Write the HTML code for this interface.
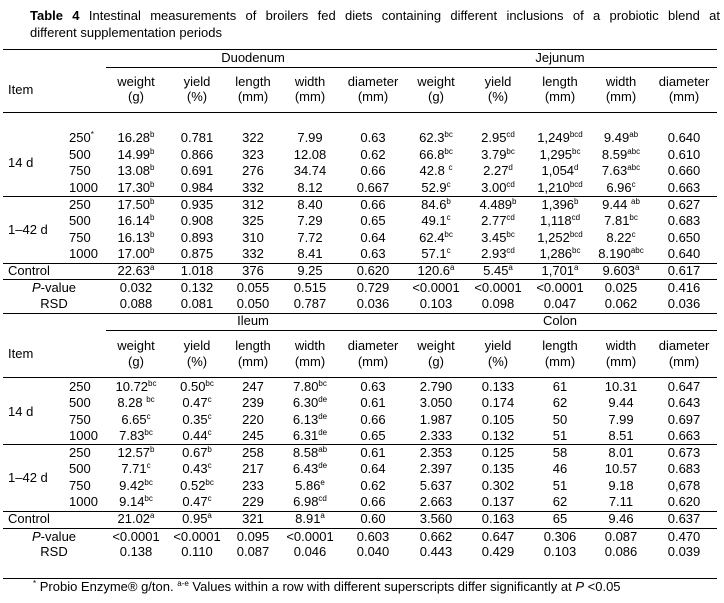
<!DOCTYPE html>
<html><head><meta charset="utf-8">
<style>
body{margin:0;background:#fff;}
#t{position:relative;width:724px;height:603px;font-family:"Liberation Sans",Arial,sans-serif;font-size:13px;color:#000;overflow:hidden;}
.c{position:absolute;line-height:16px;white-space:nowrap;}
.ctr{transform:translateX(-50%);}
.l{position:absolute;height:1px;background:#000;}
sup{font-size:8px;vertical-align:0;position:relative;top:-5px;}
</style></head><body>
<div id="t">
<div class="c" style="left:30px;top:5px;line-height:22px;white-space:normal;width:690px;text-align:justify;text-align-last:justify;"><b>Table 4</b> Intestinal measurements of broilers fed diets containing different inclusions of a probiotic blend at</div>
<div class="c" style="left:30px;top:22px;line-height:22px;">different supplementation periods</div>
</div>
<script>
const colX=[136,197,253,310,373,436,498,560,621,684];
const headers=[["weight","(g)"],["yield","(%)"],["length","(mm)"],["width","(mm)"],["diameter","(mm)"]];
const doses=["250","500","750","1000"];
const top1=[
["16.28|b","0.781","322","7.99","0.63","62.3|bc","2.95|cd","1,249|bcd","9.49|ab","0.640"],
["14.99|b","0.866","323","12.08","0.62","66.8|bc","3.79|bc","1,295|bc","8.59|abc","0.610"],
["13.08|b","0.691","276","34.74","0.66","42.8 |c","2.27|d","1,054|d","7.63|abc","0.660"],
["17.30|b","0.984","332","8.12","0.667","52.9|c","3.00|cd","1,210|bcd","6.96|c","0.663"],
["17.50|b","0.935","312","8.40","0.66","84.6|b","4.489|b","1,396|b","9.44 |ab","0.627"],
["16.14|b","0.908","325","7.29","0.65","49.1|c","2.77|cd","1,118|cd","7.81|bc","0.683"],
["16.13|b","0.893","310","7.72","0.64","62.4|bc","3.45|bc","1,252|bcd","8.22|c","0.650"],
["17.00|b","0.875","332","8.41","0.63","57.1|c","2.93|cd","1,286|bc","8.190|abc","0.640"],
["22.63|a","1.018","376","9.25","0.620","120.6|a","5.45|a","1,701|a","9.603|a","0.617"],
["0.032","0.132","0.055","0.515","0.729","<0.0001","<0.0001","<0.0001","0.025","0.416"],
["0.088","0.081","0.050","0.787","0.036","0.103","0.098","0.047","0.062","0.036"]];
const bot1=[
["10.72|bc","0.50|bc","247","7.80|bc","0.63","2.790","0.133","61","10.31","0.647"],
["8.28 |bc","0.47|c","239","6.30|de","0.61","3.050","0.174","62","9.44","0.643"],
["6.65|c","0.35|c","220","6.13|de","0.66","1.987","0.105","50","7.99","0.697"],
["7.83|bc","0.44|c","245","6.31|de","0.65","2.333","0.132","51","8.51","0.663"],
["12.57|b","0.67|b","258","8.58|ab","0.61","2.353","0.125","58","8.01","0.673"],
["7.71|c","0.43|c","217","6.43|de","0.64","2.397","0.135","46","10.57","0.683"],
["9.42|bc","0.52|bc","233","5.86|e","0.62","5.637","0.302","51","9.18","0,678"],
["9.14|bc","0.47|c","229","6.98|cd","0.66","2.663","0.137","62","7.11","0.620"],
["21.02|a","0.95|a","321","8.91|a","0.60","3.560","0.163","65","9.46","0.637"],
["<0.0001","<0.0001","0.095","<0.0001","0.603","0.662","0.647","0.306","0.087","0.470"],
["0.138","0.110","0.087","0.046","0.040","0.443","0.429","0.103","0.086","0.039"]];
const T=document.getElementById('t');
function txt(x,y,html,ctr,name){const d=document.createElement('div');d.className='c'+(ctr?' ctr':'');d.style.left=x+'px';d.style.top=(y-8)+'px';d.innerHTML=html;


T.appendChild(d);}
function line(x1,x2,y,name){const d=document.createElement('div');d.className='l';d.style.left=x1+'px';d.style.width=(x2-x1)+'px';d.style.top=y+'px';


T.appendChild(d);}
function cell(s){const p=s.split('|');return p[0].replace('<','&lt;')+(p[1]?'<sup>'+p[1]+'</sup>':'');}
function section(S,titles,data,key){
 line(3,717,S.top,key+'-top-rule');
 txt(253,S.title,titles[0],true,key+'-group-left');
 txt(560,S.title,titles[1],true,key+'-group-right');
 line(106,717,S.sub,key+'-group-rule');
 txt(8,(S.h1+S.h2)/2,'Item',false,key+'-item-header');
 for(let i=0;i<10;i++){const h=headers[i%5];txt(colX[i],S.h1,h[0],true,key+'-header');txt(colX[i],S.h2,h[1],true,key+'-unit');}
 line(3,717,S.hl,key+'-header-rule');
 txt(8,(S.r[0]+S.r[3])/2,'14 d',false,key+'-period-14d');
 txt(8,(S.r[4]+S.r[7])/2,'1–42 d',false,key+'-period-1-42d');
 for(let r=0;r<8;r++){txt(69,S.r[r],doses[r%4]+(key==='top'&&r===0?'<sup>*</sup>':''),false,key+'-dose');
  for(let i=0;i<10;i++)txt(colX[i],S.r[r],cell(data[r][i]),true,key+'-cell');}
 line(3,717,S.g1,key+'-period-rule');
 line(3,717,S.g2,key+'-control-rule-top');
 txt(8,S.ctl,'Control',false,key+'-control-label');
 for(let i=0;i<10;i++)txt(colX[i],S.ctl,cell(data[8][i]),true,key+'-control-cell');
 line(3,717,S.g3,key+'-control-rule-bottom');
 txt(54,S.p,'<i>P</i>-value',true,key+'-pvalue-label');
 txt(54,S.rsd,'RSD',true,key+'-rsd-label');
 for(let i=0;i<10;i++){txt(colX[i],S.p,cell(data[9][i]),true,key+'-pvalue-cell');txt(colX[i],S.rsd,cell(data[10][i]),true,key+'-rsd-cell');}
}
section({top:49,title:58,sub:67,h1:82,h2:97,hl:112,r:[138,155,171,188,205,221,238,254],g1:196,g2:263,ctl:271,g3:279,p:288,rsd:304},["Duodenum","Jejunum"],top1,'top');
section({top:313,title:321,sub:330,h1:346,h2:362,hl:377,r:[387,403,420,436,453,469,486,502],g1:444,g2:511,ctl:519,g3:528,p:537,rsd:552},["Ileum","Colon"],bot1,'bottom');
line(3,717,578,'footnote-rule');
txt(33,587,'<sup>*</sup> Probio Enzyme® g/ton. <sup>a-e</sup> Values within a row with different superscripts differ significantly at <i>P</i> &lt;0.05',false,'footnote');
</script>
</body></html>
